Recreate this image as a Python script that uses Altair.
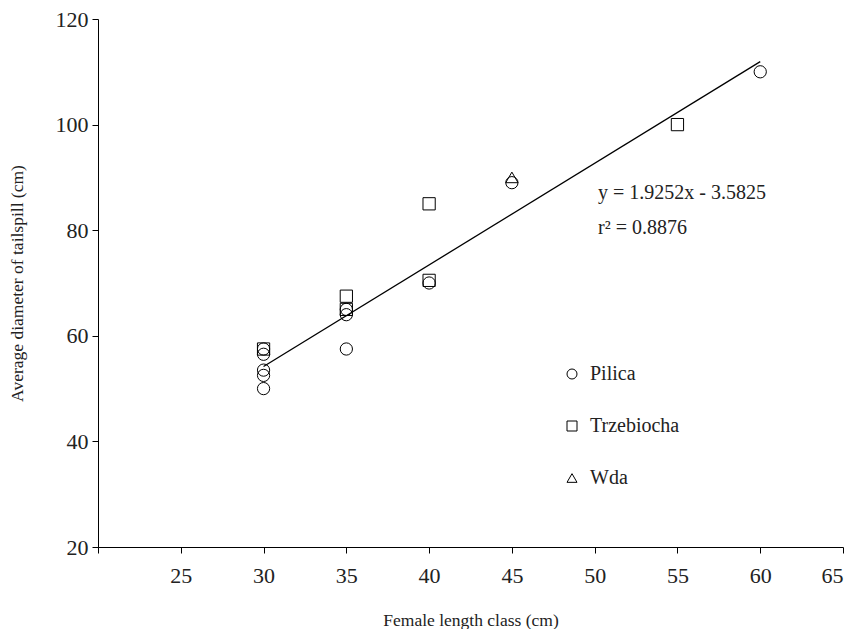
import altair as alt
import pandas as pd

# ---- data ----
pilica_x = [30, 30, 30, 30, 30, 35, 35, 35, 40, 45, 60]
pilica_y = [50, 52.5, 53.5, 56.5, 57.5, 57.5, 64, 65, 70, 89, 110]
trz_x = [30, 35, 35, 40, 40, 55]
trz_y = [57.5, 65, 67.5, 70.5, 85, 100]
wda_x = [45]
wda_y = [90]
rivers = ["Pilica", "Trzebiocha", "Wda"]

slope = 1.9252
intercept = -3.5825
fit_x = [30, 60]

eq_text = "y = 1.9252x - 3.5825"
r2_text = "r² = 0.8876"

FONT = "Liberation Serif"

rows = []
for x, y in zip(pilica_x, pilica_y):
    rows.append({"x": x, "y": y, "river": "Pilica"})
for x, y in zip(trz_x, trz_y):
    rows.append({"x": x, "y": y, "river": "Trzebiocha"})
for x, y in zip(wda_x, wda_y):
    rows.append({"x": x, "y": y, "river": "Wda"})
df = pd.DataFrame(rows)

fit_df = pd.DataFrame({"x": fit_x, "y": [slope * v + intercept for v in fit_x]})
ann_df = pd.DataFrame({"x": [50.2, 50.2], "y": [87.0, 80.4], "t": [eq_text, r2_text]})

xscale = alt.Scale(domain=[20, 65], nice=False, zero=False)
yscale = alt.Scale(domain=[20, 120], nice=False, zero=False)

xaxis = alt.Axis(values=list(range(20, 70, 5)), title="Female length class (cm)",
                 labelExpr="datum.value == 20 ? '' : datum.label",
                 grid=False, tickSize=6, labelPadding=12, titlePadding=25)
yaxis = alt.Axis(values=list(range(20, 140, 20)), title="Average diameter of tailspill (cm)",
                 grid=False, tickSize=6, labelPadding=4, titlePadding=29)

points = alt.Chart(df).mark_point(filled=False, color="black", strokeWidth=1, size=150, opacity=1).encode(
    x=alt.X("x:Q", scale=xscale, axis=xaxis),
    y=alt.Y("y:Q", scale=yscale, axis=yaxis),
    shape=alt.Shape("river:N",
                    scale=alt.Scale(domain=rivers, range=["circle", "square", "triangle-up"]),
                    legend=alt.Legend(title=None, orient="none", legendX=464, legendY=345,
                                      symbolSize=100, symbolStrokeColor="black",
                                      symbolStrokeWidth=1, symbolFillColor="transparent",
                                      labelFontSize=20, labelColor="#222", labelFont=FONT,
                                      rowPadding=32, labelOffset=8)),
)

line = alt.Chart(fit_df).mark_line(color="black", strokeWidth=1.3).encode(
    x=alt.X("x:Q", scale=xscale), y=alt.Y("y:Q", scale=yscale)
)

ann = alt.Chart(ann_df).mark_text(align="left", baseline="middle", fontSize=20, font=FONT, color="#222").encode(
    x=alt.X("x:Q", scale=xscale), y=alt.Y("y:Q", scale=yscale), text="t:N"
)

chart = (line + points + ann).properties(width=745, height=528, padding=0).configure_view(
    stroke=None
).configure_axis(
    domainColor="black", tickColor="black", labelColor="#222", titleColor="#222",
    labelFont=FONT, titleFont=FONT, labelFontSize=22, titleFontSize=17.5, titleFontWeight="normal",
    domainWidth=1
)

chart.save("out.html", embed_options={"renderer": "svg", "actions": False})
